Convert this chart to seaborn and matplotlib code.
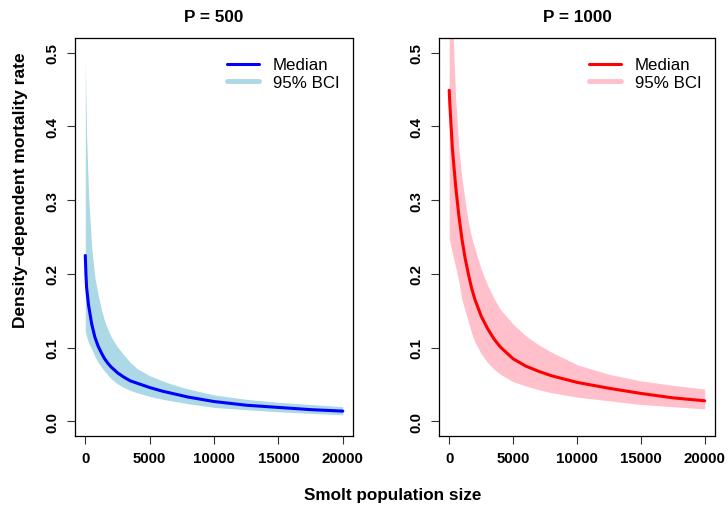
import seaborn as sns
import matplotlib.pyplot as plt
import pandas as pd
import numpy as np
from matplotlib.lines import Line2D

# smolt population size grid
smolts = [0, 50, 100, 250, 500, 750, 1000, 1250, 1500, 1750, 2000, 2500, 3000, 3500,
          4000, 5000, 6000, 7000, 8000, 10000, 12500, 15000, 17500, 20000]

# P = 500
med_500 = [0.225, 0.200, 0.182, 0.158, 0.132, 0.114, 0.102, 0.093, 0.085, 0.079, 0.074, 0.066,
           0.060, 0.055, 0.052, 0.046, 0.041, 0.037, 0.033, 0.027, 0.022, 0.019, 0.016, 0.014]
lo_500 = [0.123, 0.119, 0.115, 0.107, 0.098, 0.088, 0.080, 0.074, 0.068, 0.063, 0.058, 0.051,
          0.046, 0.042, 0.039, 0.034, 0.030, 0.027, 0.024, 0.019, 0.016, 0.013, 0.011, 0.009]
hi_500 = [0.490, 0.440, 0.390, 0.310, 0.235, 0.195, 0.172, 0.152, 0.136, 0.125, 0.115, 0.101,
          0.090, 0.080, 0.072, 0.062, 0.055, 0.049, 0.044, 0.036, 0.030, 0.026, 0.023, 0.020]

# P = 1000
med_1000 = [0.449, 0.430, 0.415, 0.370, 0.320, 0.280, 0.247, 0.221, 0.200, 0.181, 0.166, 0.143,
            0.126, 0.112, 0.101, 0.085, 0.075, 0.068, 0.062, 0.053, 0.045, 0.038, 0.032, 0.028]
lo_1000 = [0.247, 0.245, 0.240, 0.228, 0.210, 0.190, 0.165, 0.150, 0.135, 0.120, 0.108, 0.092,
           0.080, 0.071, 0.064, 0.054, 0.048, 0.043, 0.039, 0.033, 0.028, 0.023, 0.020, 0.017]
hi_1000 = [0.700, 0.660, 0.620, 0.550, 0.440, 0.370, 0.330, 0.298, 0.270, 0.250, 0.235, 0.207,
           0.185, 0.167, 0.152, 0.132, 0.116, 0.104, 0.094, 0.077, 0.064, 0.055, 0.049, 0.044]

panels = [
    ("P = 500", med_500, lo_500, hi_500, "#0000FF", "#ADD8E6"),
    ("P = 1000", med_1000, lo_1000, hi_1000, "#FF0000", "#FFC0CB"),
]

sns.set_style("ticks")
plt.rcParams['font.family'] = ['Liberation Sans', 'DejaVu Sans']
plt.rcParams.update({'text.color': 'black', 'xtick.color': '#333333', 'ytick.color': '#333333',
                     'xtick.labelcolor': 'black', 'ytick.labelcolor': 'black'})

fig = plt.figure(figsize=(7.28, 5.06), dpi=100)
ax_pos = [[0.103, 0.136, 0.382, 0.787], [0.603, 0.136, 0.379, 0.787]]

for i, (title, med, lo, hi, line_col, band_col) in enumerate(panels):
    ax = fig.add_axes(ax_pos[i])
    df = pd.DataFrame({'N': smolts, 'med': med, 'lo': lo, 'hi': hi})
    ax.fill_between(df['N'], df['lo'], df['hi'], color=band_col, lw=0)
    sns.lineplot(data=df, x='N', y='med', color=line_col, lw=2.2, ax=ax)

    ax.set_xlim(-800, 20800)
    ax.set_ylim(-0.02, 0.52)
    ax.set_xticks([0, 5000, 10000, 15000, 20000])
    ax.set_yticks([0.0, 0.1, 0.2, 0.3, 0.4, 0.5])
    ax.set_yticklabels(["0.0", "0.1", "0.2", "0.3", "0.4", "0.5"], rotation=90, va='center')
    ax.tick_params(length=6, width=0.8, labelsize=10.8, pad=5)
    for lab in ax.get_xticklabels() + ax.get_yticklabels():
        lab.set_fontweight('bold')
    for sp in ax.spines.values():
        sp.set_visible(True)
        sp.set_linewidth(0.9)
        sp.set_color('black')
    ax.set_xlabel('')
    ax.set_ylabel('')
    ax.set_title(title, fontsize=12.3, fontweight='bold', pad=12)

    handles = [Line2D([0], [0], color=line_col, lw=2.2, label='Median'),
               Line2D([0], [0], color=band_col, lw=3.5, label='95% BCI')]
    ax.legend(handles=handles, loc='upper right', bbox_to_anchor=(1.0, 0.985),
              frameon=False, prop={'size': 12.2},
              handlelength=1.9, handletextpad=0.8, labelspacing=0.15, borderpad=0.3)

fig.text(0.54, 0.02, 'Smolt population size', ha='center', va='center', fontsize=12.3, fontweight='bold')
fig.text(0.028, 0.625, 'Density\u2013dependent mortality rate', ha='center', va='center',
         rotation=90, fontsize=12.5, fontweight='bold')

plt.savefig("out.png", dpi=100)
